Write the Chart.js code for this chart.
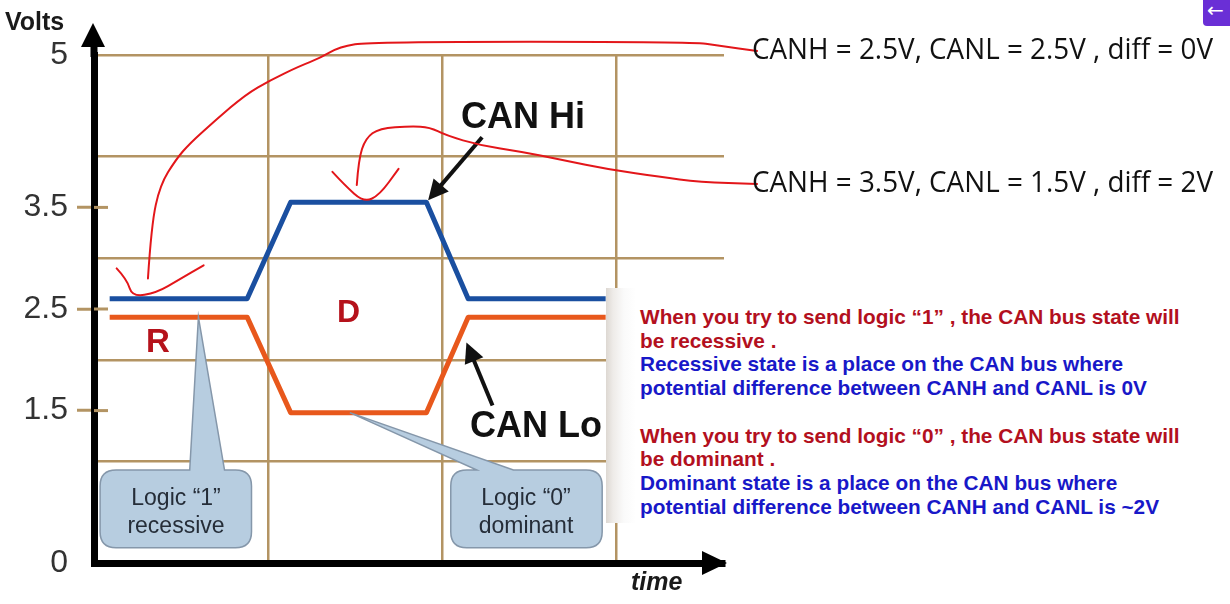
<!DOCTYPE html>
<html>
<head>
<meta charset="utf-8">
<script src="https://cdn.jsdelivr.net/npm/chart.js@4.4.1/dist/chart.umd.min.js"></script>
<style>
  html, body { margin: 0; padding: 0; background: #fff; }
  #wrap { position: relative; width: 1230px; height: 604px; overflow: hidden; background: #fff; }
  #c { position: absolute; left: 0; top: 0; }
  .t { position: absolute; white-space: nowrap; line-height: 1; transform: translateY(-50%);
       font-family: "Liberation Sans", Arial, sans-serif; }
  .b { font-weight: bold; }
  .bubble { color: #252d38; font-size: 23px; transform: translate(-50%, -50%); }
  #panel { position: absolute; left: 606px; top: 288px; width: 640px; height: 235px;
           background: linear-gradient(to right, #ddd8d2 0px, #eeebe8 7px, #fafafa 18px, #fff 30px); }
  #notes { position: absolute; left: 640px; top: 305px; font-family: "Liberation Sans", Arial, sans-serif;
           font-weight: bold; font-size: 20.8px; line-height: 23.7px; white-space: nowrap; }
  .red { color: #b3101e; }
  .blue { color: #1818c8; }
  .side { font-family: "Open Sans", sans-serif; font-size: 29px; color: #111; transform-origin: left center; }
  #tab { position: absolute; left: 1203px; top: -5px; width: 40px; height: 31px; background: #6a2fd6;
         border-radius: 4px; color: #fff; font-size: 20px; line-height: 31px; padding-left: 4px;
         font-family: "DejaVu Sans", sans-serif; }
</style>
</head>
<body>
<div id="wrap">
  <canvas id="c" width="1230" height="604"></canvas>

  <div class="t b" style="left:5px; top:21px; font-size:25px; color:#1a1a1a;">Volts</div>
  <div class="t b" style="left:631px; top:581px; font-size:25px; font-style:italic; color:#1a1a1a;">time</div>
  <div class="t b" style="left:461px; top:116px; font-size:36px; color:#111;">CAN Hi</div>
  <div class="t b" style="left:470px; top:425px; font-size:36px; color:#111;">CAN Lo</div>
  <div class="t b" style="left:146px; top:340px; font-size:33px; color:#b5121b;">R</div>
  <div class="t b" style="left:337px; top:311px; font-size:32px; color:#b5121b;">D</div>
  <div class="t bubble" style="left:176px; top:497px;">Logic “1”</div>
  <div class="t bubble" style="left:176px; top:525px;">recessive</div>
  <div class="t bubble" style="left:526px; top:497px;">Logic “0”</div>
  <div class="t bubble" style="left:526px; top:525px;">dominant</div>

  <div class="t side" data-w="461" style="left:752px; top:47px;">CANH = 2.5V, CANL = 2.5V , diff = 0V</div>
  <div class="t side" data-w="461" style="left:752px; top:180px;">CANH = 3.5V, CANL = 1.5V , diff = 2V</div>

  <div id="panel"></div>
  <div id="notes">
    <div class="red">When you try to send logic “1” , the CAN bus state will</div>
    <div class="red">be recessive .</div>
    <div class="blue">Recessive state is a place on the CAN bus where</div>
    <div class="blue">potential difference between CANH and CANL is 0V</div>
    <div>&nbsp;</div>
    <div class="red">When you try to send logic “0” , the CAN bus state will</div>
    <div class="red">be dominant .</div>
    <div class="blue">Dominant state is a place on the CAN bus where</div>
    <div class="blue">potential difference between CANH and CANL is ~2V</div>
  </div>
  <div id="tab">&#8592;</div>
</div>

<script>
// axis layout
const gridTimes = [0, 1, 2, 3];
const gridVolts = [1, 2, 3, 4, 5];
const labelVolts = [0, 1.5, 2.5, 3.5, 5];

// bus levels over time
const timePoints = [0.09, 0.88, 1.13, 1.91, 2.15, 2.94];
const canHi = [2.6, 2.6, 3.55, 3.55, 2.6, 2.6];
const canLo = [2.42, 2.42, 1.48, 1.48, 2.42, 2.42];

// hand drawn red notes, in (time, volts)
const noteLong = [[0.31, 2.80], [0.33, 3.33], [0.38, 3.72], [0.47, 3.97], [0.55, 4.13], [0.70, 4.36],
  [0.87, 4.61], [1.01, 4.75], [1.18, 4.89], [1.30, 4.97], [1.41, 5.08], [1.59, 5.13],
  [3.43, 5.13], [3.60, 5.09], [3.81, 5.04]];
const noteCheck1 = [[0.13, 2.90], [0.19, 2.79], [0.22, 2.62], [0.36, 2.66], [0.49, 2.79], [0.63, 2.93]];
const noteShort = [[1.51, 3.72], [1.52, 3.97], [1.56, 4.18], [1.64, 4.28], [1.82, 4.30], [1.93, 4.29],
  [2.02, 4.21], [2.22, 4.11], [2.45, 4.05], [2.68, 3.97], [2.97, 3.87], [3.25, 3.80], [3.48, 3.75], [3.81, 3.73]];
const noteCheck2 = [[1.37, 3.85], [1.44, 3.72], [1.55, 3.55], [1.64, 3.62], [1.75, 3.88]];

// callouts: box [t1, v1, t2, v2], pointer base [t1, t2], tip [t, v]
const callouts = [
  { box: [0.035, 0.915, 0.905, 0.15], base: [0.55, 0.75], tip: [0.60, 2.42] },
  { box: [2.05, 0.915, 2.92, 0.15], base: [2.20, 2.41], tip: [1.47, 1.48] }
];
const pointers = [
  { from: [2.23, 4.19], to: [1.92, 3.57] },
  { from: [2.29, 1.55], to: [2.14, 2.17] }
];

const GRID = '#b39463';
const CLEAR = 'rgba(0,0,0,0)';

function arrow(ctx, x1, y1, x2, y2, w, head) {
  const a = Math.atan2(y2 - y1, x2 - x1);
  ctx.beginPath();
  ctx.moveTo(x1, y1);
  ctx.lineTo(x2 - Math.cos(a) * head * 0.8, y2 - Math.sin(a) * head * 0.8);
  ctx.lineWidth = w;
  ctx.stroke();
  ctx.beginPath();
  ctx.moveTo(x2, y2);
  ctx.lineTo(x2 - head * Math.cos(a) + head * 0.5 * Math.sin(a), y2 - head * Math.sin(a) - head * 0.5 * Math.cos(a));
  ctx.lineTo(x2 - head * Math.cos(a) - head * 0.5 * Math.sin(a), y2 - head * Math.sin(a) + head * 0.5 * Math.cos(a));
  ctx.closePath();
  ctx.fill();
}

function smooth(ctx, pts) {
  ctx.beginPath();
  ctx.moveTo(pts[0][0], pts[0][1]);
  for (let i = 1; i < pts.length - 1; i++) {
    const mx = (pts[i][0] + pts[i + 1][0]) / 2, my = (pts[i][1] + pts[i + 1][1]) / 2;
    ctx.quadraticCurveTo(pts[i][0], pts[i][1], mx, my);
  }
  const last = pts[pts.length - 1];
  ctx.lineTo(last[0], last[1]);
  ctx.stroke();
}

const extras = {
  id: 'extras',
  afterDatasetsDraw(chart) {
    const { ctx, scales: { x, y } } = chart;
    const px = (t, v) => [x.getPixelForValue(t), y.getPixelForValue(v)];
    ctx.save();

    // tick stubs crossing into the plot
    ctx.strokeStyle = GRID;
    ctx.lineWidth = 3;
    labelVolts.filter(v => v > 0 && v < 5).forEach(v => {
      const yy = y.getPixelForValue(v);
      ctx.beginPath();
      ctx.moveTo(x.left, yy);
      ctx.lineTo(x.left + 14, yy);
      ctx.stroke();
    });

    // callout bubbles
    callouts.forEach(c => {
      const [x1, y1] = px(c.box[0], c.box[1]);
      const [x2, y2] = px(c.box[2], c.box[3]);
      const bx1 = x.getPixelForValue(c.base[0]), bx2 = x.getPixelForValue(c.base[1]);
      const [tx, ty] = px(c.tip[0], c.tip[1]);
      const r = 16;
      ctx.beginPath();
      ctx.moveTo(x1 + r, y1);
      ctx.lineTo(Math.min(bx1, bx2), y1);
      ctx.lineTo(tx, ty);
      ctx.lineTo(Math.max(bx1, bx2), y1);
      ctx.lineTo(x2 - r, y1);
      ctx.quadraticCurveTo(x2, y1, x2, y1 + r);
      ctx.lineTo(x2, y2 - r);
      ctx.quadraticCurveTo(x2, y2, x2 - r, y2);
      ctx.lineTo(x1 + r, y2);
      ctx.quadraticCurveTo(x1, y2, x1, y2 - r);
      ctx.lineTo(x1, y1 + r);
      ctx.quadraticCurveTo(x1, y1, x1 + r, y1);
      ctx.closePath();
      ctx.fillStyle = '#b7cde0';
      ctx.fill();
      ctx.strokeStyle = '#8597aa';
      ctx.lineWidth = 1.5;
      ctx.stroke();
    });

    // black pointer arrows to the lines
    ctx.strokeStyle = '#111';
    ctx.fillStyle = '#111';
    pointers.forEach(p => {
      const [x1, y1] = px(p.from[0], p.from[1]);
      const [x2, y2] = px(p.to[0], p.to[1]);
      arrow(ctx, x1, y1, x2, y2, 4, 20);
    });

    // axis arrow heads
    const ax = x.left, ay = y.bottom;
    ctx.fillStyle = '#000';
    ctx.fillRect(ax - 3.5, y.top - 10, 7, 12);
    ctx.beginPath();
    ctx.moveTo(ax - 1, 23);
    ctx.lineTo(ax - 13, y.top - 8);
    ctx.lineTo(ax + 11, y.top - 8);
    ctx.closePath();
    ctx.fill();
    ctx.beginPath();
    ctx.moveTo(x.right + 3, ay);
    ctx.lineTo(x.right - 22, ay - 12);
    ctx.lineTo(x.right - 22, ay + 12);
    ctx.closePath();
    ctx.fill();

    // red hand notes
    ctx.strokeStyle = '#e3161a';
    ctx.lineWidth = 2;
    ctx.lineCap = 'round';
    ctx.lineJoin = 'round';
    [noteLong, noteCheck1, noteShort, noteCheck2].forEach(n => smooth(ctx, n.map(p => px(p[0], p[1]))));

    ctx.restore();
  }
};

new Chart(document.getElementById('c'), {
  type: 'line',
  data: {
    datasets: [
      {
        label: 'CAN Hi',
        data: timePoints.map((t, i) => ({ x: t, y: canHi[i] })),
        borderColor: '#1a4fa0',
        borderWidth: 5,
        pointRadius: 0,
        tension: 0,
        borderJoinStyle: 'round'
      },
      {
        label: 'CAN Lo',
        data: timePoints.map((t, i) => ({ x: t, y: canLo[i] })),
        borderColor: '#e8581c',
        borderWidth: 5,
        pointRadius: 0,
        tension: 0,
        borderJoinStyle: 'round'
      }
    ]
  },
  options: {
    responsive: false,
    devicePixelRatio: 1,
    animation: false,
    layout: { padding: { top: 55, right: 506, left: 0, bottom: 0 } },
    plugins: { legend: { display: false }, tooltip: { enabled: false } },
    scales: {
      x: {
        type: 'linear',
        min: 0,
        max: 3.62,
        afterFit: s => { s.height = 41; },
        afterBuildTicks: s => { s.ticks = gridTimes.map(v => ({ value: v })); },
        ticks: { display: false },
        grid: { color: GRID, lineWidth: 2.5, drawTicks: false },
        border: { color: '#000', width: 7 }
      },
      y: {
        type: 'linear',
        min: 0,
        max: 5,
        afterFit: s => { s.width = 94; },
        afterBuildTicks: s => {
          s.ticks = [...new Set([...gridVolts, ...labelVolts])].sort((a, b) => a - b).map(v => ({ value: v }));
        },
        ticks: {
          autoSkip: false,
          padding: 9,
          color: '#333',
          font: { family: 'Liberation Sans', size: 32 },
          callback: v => labelVolts.includes(v) ? String(v) : ''
        },
        grid: {
          color: c => c.tick && gridVolts.includes(c.tick.value) ? GRID : CLEAR,
          lineWidth: 2.5,
          tickLength: 17,
          tickWidth: 3,
          tickColor: c => c.tick && labelVolts.includes(c.tick.value) && c.tick.value > 0 && c.tick.value < 5 ? GRID : CLEAR
        },
        border: { color: '#000', width: 7 }
      }
    }
  },
  plugins: [extras]
});

// squeeze the side notes to the reference width
document.querySelectorAll('.side').forEach(el => {
  const k = Number(el.dataset.w) / el.getBoundingClientRect().width;
  el.style.transform = `translateY(-50%) scaleX(${k})`;
});
</script>
</body>
</html>
